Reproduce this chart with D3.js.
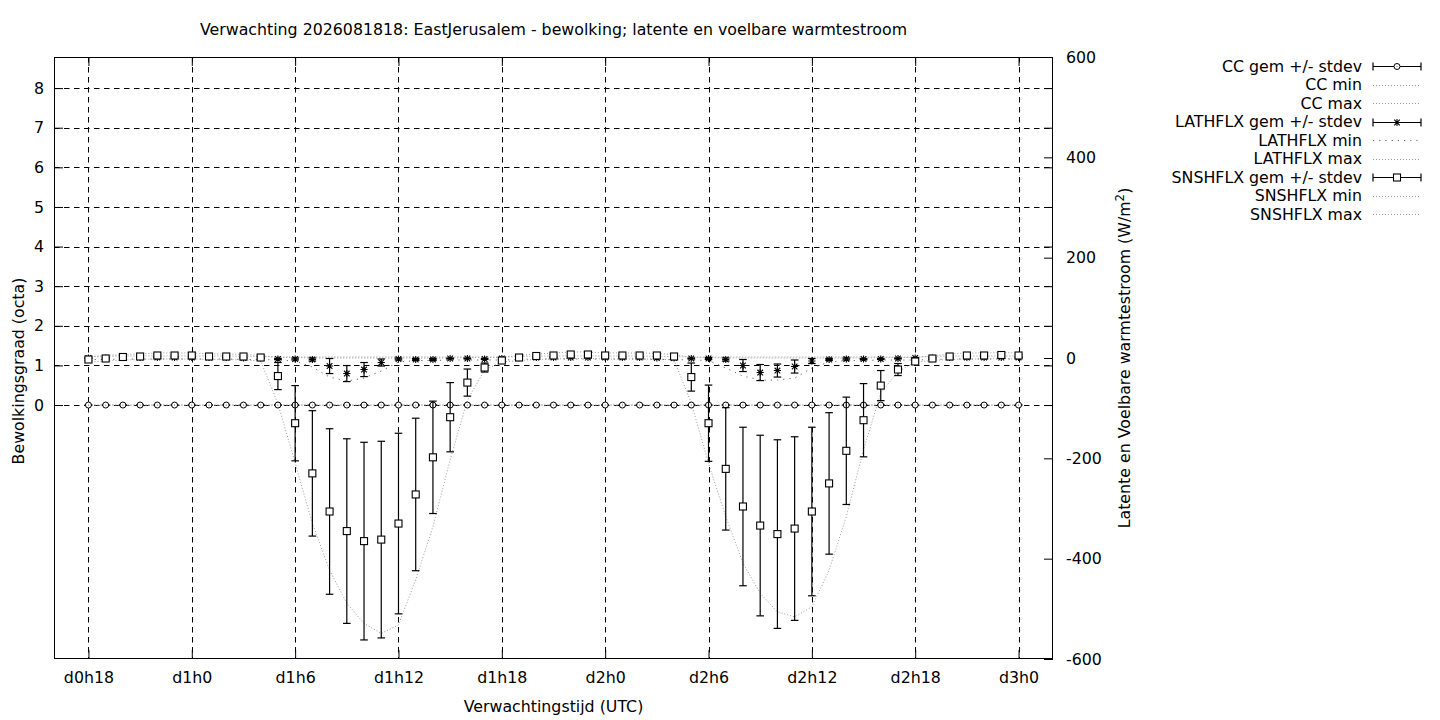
<!DOCTYPE html>
<html>
<head>
<meta charset="utf-8">
<script src="https://cdn.jsdelivr.net/npm/d3@7"></script>
<style>
  html, body { margin: 0; padding: 0; background: #fff; }
  svg { display: block; font-family: "DejaVu Sans", sans-serif; }
</style>
</head>
<body>
<svg id="chart" width="1440" height="720"></svg>
<script>
// ---------- data (hours since d0h0) ----------
const hours = [18,19,20,21,22,23,24,25,26,27,28,29,30,31,32,33,34,35,36,37,38,39,40,41,42,43,44,45,46,47,48,49,50,51,52,53,54,55,56,57,58,59,60,61,62,63,64,65,66,67,68,69,70,71,72];

const xTickValues = [18, 24, 30, 36, 42, 48, 54, 60, 66, 72];
const xTickLabels = ["d0h18","d1h0","d1h6","d1h12","d1h18","d2h0","d2h6","d2h12","d2h18","d3h0"];
const yTickValues = [0,1,2,3,4,5,6,7,8];
const y2TickValues = [-600,-400,-200,0,200,400,600];

// CC (octa)
const ccMean = [0,0,0,0,0,0,0,0,0,0,0, 0,0,0,0,0,0,0,0,0,0,0,0,0,0, 0,0,0,0,0,0,0,0,0,0, 0,0,0,0,0,0,0,0,0,0,0,0,0,0, 0,0,0,0,0,0];
const ccSd   = [0,0,0,0,0,0,0,0,0,0,0, 0,0,0,0,0,0,0,0,0,0,0,0,0,0, 0,0,0,0,0,0,0,0,0,0, 0,0,0,0,0,0,0,0,0,0,0,0,0,0, 0,0,0,0,0,0];
const ccMin  = [0,0,0,0,0,0,0,0,0,0,0, 0,0,0,0,0,0,0,0,0,0,0,0,0,0, 0,0,0,0,0,0,0,0,0,0, 0,0,0,0,0,0,0,0,0,0,0,0,0,0, 0,0,0,0,0,0];
const ccMax  = [0,0,0,0,0,0,0,0,0,0,0, 0,0,0,0,0,0,0,0,0,0,0,0,0,0, 0,0,0,0,0,0,0,0,0,0, 0,0,0,0,0,0,0,0,0,0,0,0,0,0, 0,0,0,0,0,0];

// LATHFLX (W/m2)
const lathMean = [0,0,1,1,1,1,1,1,1,0,0, -2,-2,-3,-16,-31,-23,-9,-2,-3,-3,-1,-1,-2,-1, 0,1,1,1,1,1,1,1,0,0, -1,-1,-3,-15,-29,-25,-17,-6,-3,-2,-2,-2,-1,0, 0,1,1,1,1,1];
const lathSd   = [1,1,1,1,1,1,1,1,1,1,1, 1,2,3,15,16,14,7,2,2,2,1,1,1,1, 1,1,1,1,1,1,1,1,1,1, 1,2,3,12,16,13,13,5,2,2,1,1,1,1, 1,1,1,1,1,1];
const lathMin  = [-3,-3,-2,-2,-2,-2,-2,-2,-2,-3,-3, -4,-6,-18,-38,-46,-40,-26,-8,-5,-5,-4,-4,-4,-4, -3,-2,-2,-2,-2,-2,-2,-2,-3,-3, -4,-5,-20,-36,-44,-44,-40,-20,-8,-5,-5,-4,-4,-4, -3,-2,-2,-2,-2,-2];
const lathMax  = [3,3,4,4,4,4,4,4,4,3,3, 2,2,2,2,2,2,2,2,2,2,2,2,2,2, 3,4,4,4,4,4,4,4,3,3, 2,2,2,2,2,2,2,2,2,2,2,2,2,2, 3,4,4,4,4,4];

// SNSHFLX (W/m2)
const snsMean = [-3,-1,2,3,5,5,5,3,3,3,1, -36,-130,-230,-306,-345,-365,-362,-330,-272,-198,-118,-49,-19,-5, 1,4,5,7,7,5,5,5,5,3, -38,-130,-221,-296,-334,-351,-340,-306,-250,-185,-124,-55,-23,-7, -1,3,5,5,6,5];
const snsSd   = [2,2,2,2,2,2,2,2,2,2,2, 27,75,125,165,184,197,196,180,152,112,69,27,9,3, 2,2,2,2,2,2,2,2,2,2, 28,76,122,158,180,188,183,168,141,107,73,30,12,3, 2,2,2,2,2,2];
const snsMin  = [-8,-6,-4,-3,-2,-2,-2,-3,-3,-4,-6, -91,-209,-330,-423,-489,-529,-549,-532,-442,-336,-203,-84,-24,-8, -5,-3,-2,-1,-1,-2,-2,-2,-2,-4, -90,-210,-316,-409,-469,-506,-516,-496,-423,-316,-183,-70,-27,-8, -5,-3,-2,-2,-1,-2];
const snsMax  = [3,5,7,8,10,10,10,8,8,7,5, 1,1,0,0,0,0,0,0,0,0,0,1,1,1, 5,8,10,12,12,10,10,10,9,7, 1,1,0,0,0,0,0,0,0,0,0,1,1,1, 4,8,10,10,11,10];

const titleText = "Verwachting 2026081818: EastJerusalem - bewolking; latente en voelbare warmtestroom";

// ---------- layout ----------
const L = 54, R = 1053, T = 57, B = 659;
const svg = d3.select("#chart");
const FS = 15.8;

const x = d3.scaleLinear().domain([16, 74]).range([L, R]);
const y = d3.scaleLinear().domain([-6.41, 8.785]).range([B, T]);
const y2 = d3.scaleLinear().domain([-600, 600]).range([B, T]);

// clip
svg.append("defs").append("clipPath").attr("id","clip")
  .append("rect").attr("x", L).attr("y", T).attr("width", R - L).attr("height", B - T);

// grid
const grid = svg.append("g").attr("stroke", "#000").attr("stroke-width", 1)
  .attr("stroke-dasharray", "5.5,4.5").attr("fill", "none");
xTickValues.forEach(v => {
  const px = Math.round(x(v)) + 0.5;
  grid.append("line").attr("x1", px).attr("x2", px).attr("y1", T).attr("y2", B);
});
yTickValues.forEach(v => {
  const py = Math.round(y(v)) + 0.5;
  grid.append("line").attr("x1", L).attr("x2", R).attr("y1", py).attr("y2", py);
});

// axes via d3 (ticks inward)
const tickLen = 9;
const gx = svg.append("g").attr("transform", `translate(0,${B})`)
  .call(d3.axisBottom(x).tickValues(xTickValues).tickFormat((d,i) => xTickLabels[i]).tickSizeInner(-tickLen).tickSizeOuter(0).tickPadding(13));
const gxTop = svg.append("g").attr("transform", `translate(0,${T})`)
  .call(d3.axisTop(x).tickValues(xTickValues).tickFormat("").tickSizeInner(-tickLen).tickSizeOuter(0));
const gy = svg.append("g").attr("transform", `translate(${L},0)`)
  .call(d3.axisLeft(y).tickValues(yTickValues).tickFormat(d => String(d)).tickSizeInner(-tickLen).tickSizeOuter(0).tickPadding(10));
const gyMirror = svg.append("g").attr("transform", `translate(${R},0)`)
  .call(d3.axisRight(y).tickValues(yTickValues).tickFormat("").tickSizeInner(-tickLen).tickSizeOuter(0));
const gy2 = svg.append("g").attr("transform", `translate(${R},0)`)
  .call(d3.axisRight(y2).tickValues(y2TickValues).tickFormat(d => String(d)).tickSizeInner(-tickLen).tickSizeOuter(0).tickPadding(13));

[gx, gxTop, gy, gyMirror, gy2].forEach(g => {
  g.select(".domain").remove();
  g.selectAll("line").attr("stroke", "#000").attr("stroke-width", 1);
  g.selectAll("text").attr("font-size", FS).attr("font-family", "DejaVu Sans").attr("fill", "#000");
});
gy2.selectAll("text").attr("text-anchor", "start");

// border
svg.append("rect").attr("x", L + 0.5).attr("y", T + 0.5).attr("width", R - L - 1).attr("height", B - T - 1)
  .attr("fill", "none").attr("stroke", "#000").attr("stroke-width", 1);

// ---------- series ----------
const plot = svg.append("g").attr("clip-path", "url(#clip)");

function dotted(values, scale, dash, color) {
  const line = d3.line().x((d,i) => x(hours[i])).y(d => scale(d));
  plot.append("path").datum(values).attr("d", line)
    .attr("fill", "none").attr("stroke", color).attr("stroke-width", 1)
    .attr("stroke-dasharray", dash);
}

const minmaxColor = "#9a9a9a";
dotted(ccMin, y, "1,2", minmaxColor);
dotted(ccMax, y, "1,2", minmaxColor);
dotted(lathMin, y2, "1.2,5", "#666");
dotted(lathMax, y2, "1,2", minmaxColor);
dotted(snsMin, y2, "1,2", minmaxColor);
dotted(snsMax, y2, "1,2", minmaxColor);

const capW = 3.8;
function errorbars(mean, sd, scale) {
  const g = plot.append("g").attr("stroke", "#000").attr("stroke-width", 1.2).attr("fill", "none");
  mean.forEach((m, i) => {
    const px = x(hours[i]);
    const yt = scale(m + sd[i]), yb = scale(m - sd[i]);
    g.append("line").attr("x1", px).attr("x2", px).attr("y1", yt).attr("y2", yb);
    g.append("line").attr("x1", px - capW).attr("x2", px + capW).attr("y1", yt).attr("y2", yt);
    g.append("line").attr("x1", px - capW).attr("x2", px + capW).attr("y1", yb).attr("y2", yb);
  });
}

function circleMark(g, px, py) {
  g.append("circle").attr("cx", px).attr("cy", py).attr("r", 3)
    .attr("fill", "#fff").attr("stroke", "#000").attr("stroke-width", 1);
  g.append("circle").attr("cx", px).attr("cy", py).attr("r", 0.6).attr("fill", "#666");
}
function starMark(g, px, py) {
  const s = 3.6, d = 2.8;
  const p = `M${px-s},${py}L${px+s},${py}M${px},${py-s}L${px},${py+s}M${px-d},${py-d}L${px+d},${py+d}M${px-d},${py+d}L${px+d},${py-d}`;
  g.append("path").attr("d", p).attr("stroke", "#000").attr("stroke-width", 1.1).attr("fill", "none");
}
function squareMark(g, px, py) {
  const h = 3.5;
  g.append("rect").attr("x", px - h).attr("y", py - h).attr("width", 2*h).attr("height", 2*h)
    .attr("fill", "#fff").attr("stroke", "#000").attr("stroke-width", 1.1);
}

errorbars(ccMean, ccSd, y);
const gcc = plot.append("g");
ccMean.forEach((m,i) => circleMark(gcc, x(hours[i]), y(m)));

errorbars(lathMean, lathSd, y2);
const glat = plot.append("g");
lathMean.forEach((m,i) => starMark(glat, x(hours[i]), y2(m)));

errorbars(snsMean, snsSd, y2);
const gsns = plot.append("g");
snsMean.forEach((m,i) => squareMark(gsns, x(hours[i]), y2(m)));

// ---------- labels ----------
svg.append("text").attr("x", 553.5).attr("y", 34.5).attr("text-anchor", "middle")
  .attr("font-size", FS).text(titleText);
svg.append("text").attr("x", 553.5).attr("y", 712).attr("text-anchor", "middle")
  .attr("font-size", FS).text("Verwachtingstijd (UTC)");
svg.append("text").attr("transform", "translate(24,371) rotate(-90)").attr("text-anchor", "middle")
  .attr("font-size", FS).text("Bewolkingsgraad (octa)");
const r2 = svg.append("text").attr("transform", "translate(1130,358) rotate(-90)").attr("text-anchor", "middle")
  .attr("font-size", FS);
r2.append("tspan").text("Latente en Voelbare warmtestroom (W/m");
r2.append("tspan").attr("font-size", FS * 0.75).attr("dy", -6).text("2");
r2.append("tspan").attr("dy", 6).text(")");

// ---------- legend ----------
const legendItems = [
  {label: "CC gem +/- stdev", type: "err", mark: circleMark},
  {label: "CC min", type: "dot", dash: "1,2", color: minmaxColor},
  {label: "CC max", type: "dot", dash: "1,2", color: minmaxColor},
  {label: "LATHFLX gem +/- stdev", type: "err", mark: starMark},
  {label: "LATHFLX min", type: "dot", dash: "1.2,5", color: "#666"},
  {label: "LATHFLX max", type: "dot", dash: "1,2", color: minmaxColor},
  {label: "SNSHFLX gem +/- stdev", type: "err", mark: squareMark},
  {label: "SNSHFLX min", type: "dot", dash: "1,2", color: minmaxColor},
  {label: "SNSHFLX max", type: "dot", dash: "1,2", color: minmaxColor}
];
const lg = svg.append("g");
const lx1 = 1373, lx2 = 1421, ltx = 1362;
legendItems.forEach((it, i) => {
  const cy = 66 + i * 18.5;
  lg.append("text").attr("x", ltx).attr("y", cy + 5.5).attr("text-anchor", "end")
    .attr("font-size", FS).text(it.label);
  const yy = Math.round(cy) + 0.5;
  if (it.type === "err") {
    lg.append("line").attr("x1", lx1).attr("x2", lx2).attr("y1", yy).attr("y2", yy).attr("stroke", "#000").attr("stroke-width", 1.2);
    lg.append("line").attr("x1", lx1).attr("x2", lx1).attr("y1", yy - 4).attr("y2", yy + 4).attr("stroke", "#000").attr("stroke-width", 1.2);
    lg.append("line").attr("x1", lx2).attr("x2", lx2).attr("y1", yy - 4).attr("y2", yy + 4).attr("stroke", "#000").attr("stroke-width", 1.2);
    it.mark(lg, (lx1 + lx2) / 2, yy);
  } else {
    lg.append("line").attr("x1", lx1).attr("x2", lx2).attr("y1", yy).attr("y2", yy)
      .attr("stroke", it.color).attr("stroke-width", 1).attr("stroke-dasharray", it.dash);
  }
});
</script>
</body>
</html>
